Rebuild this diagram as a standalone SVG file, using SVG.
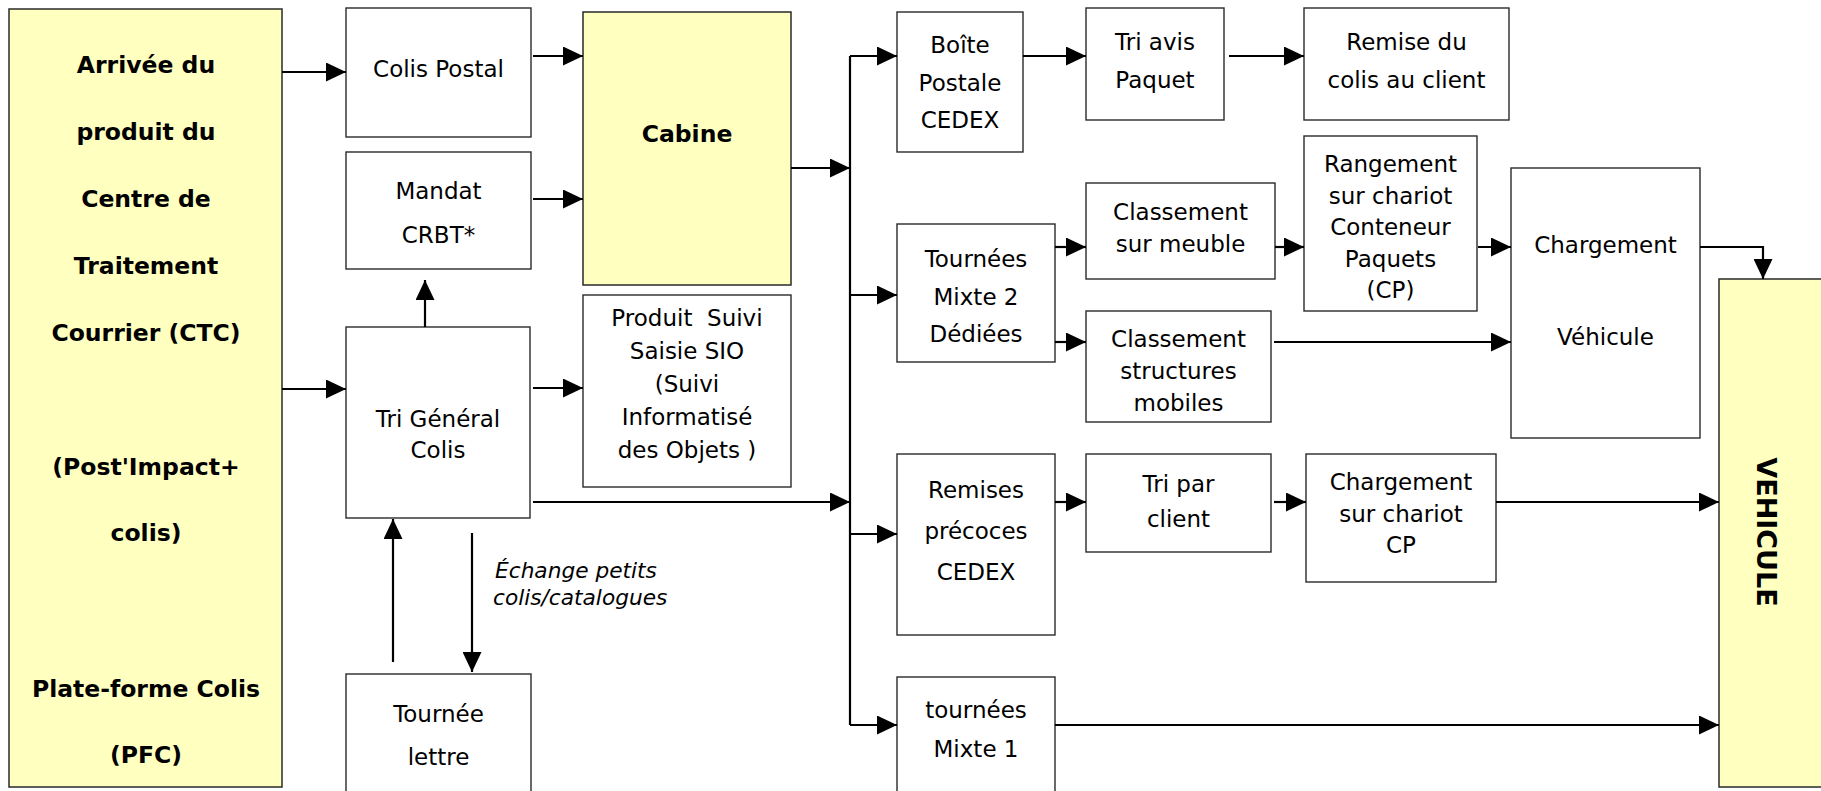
<svg xmlns="http://www.w3.org/2000/svg" width="1821" height="791" viewBox="0 0 1821 791">
<style>
.box{fill:#fff;stroke:#2a2a2a;stroke-width:1.4}
.yb{fill:#FFFFC0;stroke:#2a2a2a;stroke-width:1.5}
text{font-family:"DejaVu Sans",Verdana,sans-serif;font-size:23px;fill:#000;text-anchor:middle}
.b{font-weight:bold;font-size:23.5px}
.it{font-style:italic;text-anchor:start;font-size:21.7px}
.c{fill:none;stroke:#000;stroke-width:2.2}
.a{marker-end:url(#ah)}
</style>
<defs>
<marker id="ah" markerUnits="userSpaceOnUse" markerWidth="20" markerHeight="19" refX="20" refY="9.5" orient="auto">
<path d="M0,0 L20,9.5 L0,19 z" fill="#000"/>
</marker>
</defs>
<rect width="1821" height="791" fill="#fff"/>

<g id="ctc">
<rect class="yb" x="9" y="9" width="273" height="778"/>
<text class="b" x="146" y="73">Arrivée du</text>
<text class="b" x="146" y="140">produit du</text>
<text class="b" x="146" y="207">Centre de</text>
<text class="b" x="146" y="274">Traitement</text>
<text class="b" x="146" y="341">Courrier (CTC)</text>
<text class="b" x="146" y="475">(Post'Impact+</text>
<text class="b" x="146" y="541">colis)</text>
<text class="b" x="146" y="697">Plate-forme Colis</text>
<text class="b" x="146" y="763">(PFC)</text>
</g>

<g id="colis-postal">
<rect class="box" x="346" y="8" width="185" height="129"/>
<text x="438.5" y="77">Colis Postal</text>
</g>

<g id="mandat">
<rect class="box" x="346" y="152" width="185" height="117"/>
<text x="438.5" y="199">Mandat</text>
<text x="438.5" y="243">CRBT*</text>
</g>

<g id="tri-general">
<rect class="box" x="346" y="327" width="184" height="191"/>
<text x="438" y="427">Tri Général</text>
<text x="438" y="458">Colis</text>
</g>

<g id="tournee-lettre">
<rect class="box" x="346" y="674" width="185" height="130"/>
<text x="438.5" y="722">Tournée</text>
<text x="438.5" y="765">lettre</text>
</g>

<g id="cabine">
<rect class="yb" x="583" y="12" width="208" height="273"/>
<text class="b" x="687" y="142">Cabine</text>
</g>

<g id="produit-suivi">
<rect class="box" x="583" y="295" width="208" height="192"/>
<text x="687" y="326" xml:space="preserve">Produit  Suivi</text>
<text x="687" y="359">Saisie SIO</text>
<text x="687" y="392">(Suivi</text>
<text x="687" y="425">Informatisé</text>
<text x="687" y="458">des Objets )</text>
</g>

<g id="boite-postale">
<rect class="box" x="897" y="12" width="126" height="140"/>
<text x="960" y="53">Boîte</text>
<text x="960" y="91">Postale</text>
<text x="960" y="128">CEDEX</text>
</g>

<g id="tournees-mixte2">
<rect class="box" x="897" y="224" width="158" height="138"/>
<text x="976" y="267">Tournées</text>
<text x="976" y="305">Mixte 2</text>
<text x="976" y="342">Dédiées</text>
</g>

<g id="remises-precoces">
<rect class="box" x="897" y="454" width="158" height="181"/>
<text x="976" y="498">Remises</text>
<text x="976" y="539">précoces</text>
<text x="976" y="580">CEDEX</text>
</g>

<g id="tournees-mixte1">
<rect class="box" x="897" y="677" width="158" height="130"/>
<text x="976" y="718">tournées</text>
<text x="976" y="757">Mixte 1</text>
</g>

<g id="tri-avis">
<rect class="box" x="1086" y="8" width="138" height="112"/>
<text x="1155" y="50">Tri avis</text>
<text x="1155" y="88">Paquet</text>
</g>

<g id="remise-client">
<rect class="box" x="1304" y="8" width="205" height="112"/>
<text x="1406.5" y="50">Remise du</text>
<text x="1406.5" y="88">colis au client</text>
</g>

<g id="classement-meuble">
<rect class="box" x="1086" y="183" width="189" height="96"/>
<text x="1180.5" y="220">Classement</text>
<text x="1180.5" y="252">sur meuble</text>
</g>

<g id="classement-structures">
<rect class="box" x="1086" y="311" width="185" height="111"/>
<text x="1178.5" y="347">Classement</text>
<text x="1178.5" y="379">structures</text>
<text x="1178.5" y="411">mobiles</text>
</g>

<g id="rangement">
<rect class="box" x="1304" y="136" width="173" height="175"/>
<text x="1390.5" y="172">Rangement</text>
<text x="1390.5" y="204">sur chariot</text>
<text x="1390.5" y="235">Conteneur</text>
<text x="1390.5" y="267">Paquets</text>
<text x="1390.5" y="298">(CP)</text>
</g>

<g id="chargement-vehicule">
<rect class="box" x="1511" y="168" width="189" height="270"/>
<text x="1605.5" y="253">Chargement</text>
<text x="1605.5" y="345">Véhicule</text>
</g>

<g id="tri-client">
<rect class="box" x="1086" y="454" width="185" height="98"/>
<text x="1178.5" y="492">Tri par</text>
<text x="1178.5" y="527">client</text>
</g>

<g id="chargement-chariot">
<rect class="box" x="1306" y="454" width="190" height="128"/>
<text x="1401" y="490">Chargement</text>
<text x="1401" y="522">sur chariot</text>
<text x="1401" y="553">CP</text>
</g>

<g id="vehicule">
<rect class="yb" x="1719" y="279" width="120" height="508"/>
<text class="b" style="font-size:27px" transform="translate(1757,532) rotate(90)">VEHICULE</text>
</g>

<g id="connectors">
<path class="c a" d="M282,72 H346"/>
<path class="c a" d="M282,389 H346"/>
<path class="c a" d="M533,56 H583"/>
<path class="c a" d="M533,199 H583"/>
<path class="c a" d="M533,388 H583"/>
<path class="c a" d="M425,327 V280"/>
<path class="c a" d="M393,662 V519"/>
<path class="c a" d="M472,533 V672"/>
<path class="c a" d="M533,502 H850"/>
<path class="c a" d="M791,168 H850"/>
<path class="c" d="M850,56 V725"/>
<path class="c a" d="M850,56 H897"/>
<path class="c a" d="M850,295 H897"/>
<path class="c a" d="M850,534 H897"/>
<path class="c a" d="M850,725 H897"/>
<path class="c a" d="M1023,56 H1086"/>
<path class="c a" d="M1229,56 H1304"/>
<path class="c a" d="M1055,247 H1086"/>
<path class="c a" d="M1055,342 H1086"/>
<path class="c a" d="M1275,247 H1304"/>
<path class="c a" d="M1478,247 H1511"/>
<path class="c a" d="M1274,342 H1511"/>
<path class="c a" d="M1700,247 H1763 V279"/>
<path class="c a" d="M1055,502 H1086"/>
<path class="c a" d="M1274,502 H1306"/>
<path class="c a" d="M1496,502 H1719"/>
<path class="c a" d="M1055,725 H1719"/>
<text class="it" x="495" y="578">Échange petits</text>
<text class="it" x="493" y="605">colis/catalogues</text>
</g>
</svg>
